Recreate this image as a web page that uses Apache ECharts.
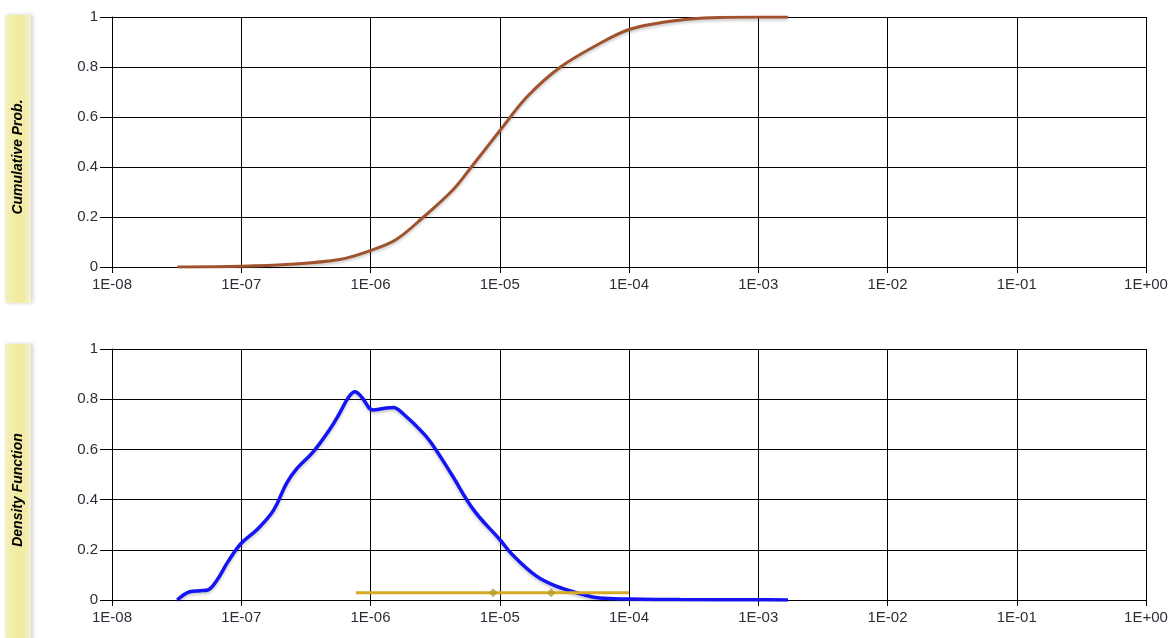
<!DOCTYPE html>
<html>
<head>
<meta charset="utf-8">
<script src="https://cdn.jsdelivr.net/npm/echarts@6/dist/echarts.min.js"></script>
<style>
  html, body { margin: 0; padding: 0; background: #fff; }
  #chart { width: 1175px; height: 638px; }
</style>
</head>
<body>
<div id="chart"></div>
<script>
// cumulative probability curve (x in real units, log axis)
var cdfX = [3.2e-8, 1e-7, 2.24e-7, 5.75e-7, 1e-6, 1.58e-6, 2.57e-6, 4.37e-6, 6.03e-6, 1e-5,
  1.62e-5, 2.95e-5, 5.75e-5, 1e-4, 1.9e-4, 3.0e-4, 5e-4, 1e-3, 1.7e-3]
var cdfY = [0, 0.003, 0.01, 0.03, 0.066, 0.11, 0.2, 0.31, 0.4, 0.545,
  0.68, 0.8, 0.89, 0.95, 0.98, 0.992, 0.998, 1, 1]

// density function curve
var pdfX = [3.2e-8, 4.0e-8, 4.8e-8, 5.5e-8, 6.5e-8, 7.9e-8, 1e-7, 1.32e-7, 1.78e-7, 2.24e-7,
  2.7e-7, 3.6e-7, 4.8e-7, 5.75e-7, 6.8e-7, 7.6e-7, 8.5e-7, 1.05e-6, 1.26e-6, 1.5e-6,
  1.78e-6, 2.57e-6, 3.1e-6, 4.2e-6, 6.3e-6, 1e-5, 1.26e-5, 1.9e-5, 2.7e-5, 4.2e-5,
  5.9e-5, 1e-4, 2.5e-4, 1e-3, 1.7e-3]
var pdfY = [0, 0.033, 0.037, 0.04, 0.08, 0.153, 0.226, 0.28, 0.358, 0.465,
  0.524, 0.59, 0.677, 0.743, 0.81, 0.83, 0.81, 0.757, 0.763, 0.767,
  0.743, 0.664, 0.61, 0.504, 0.358, 0.241, 0.179, 0.097, 0.056, 0.025,
  0.008, 0.004, 0.0015, 0.001, 0]

// yellow range bar with two markers
var rangeX = [7.7e-7, 1e-4]
var rangeY = [0.029, 0.029]
var markX = [8.9e-6, 2.5e-5]
var markY = [0.029, 0.029]

var xLabels = ['1E-08', '1E-07', '1E-06', '1E-05', '1E-04', '1E-03', '1E-02', '1E-01', '1E+00']

function zip (xs, ys) {
  return xs.map(function (x, i) { return [x, ys[i]] })
}

function xAxisCfg (idx) {
  return {
    type: 'log',
    logBase: 10,
    gridIndex: idx,
    min: 1e-8,
    max: 1,
    splitNumber: 8,
    axisLine: { lineStyle: { color: '#000', width: 1 } },
    axisTick: { show: true, length: 6, lineStyle: { color: '#000' } },
    minorTick: { show: false },
    splitLine: { show: true, lineStyle: { color: '#000', width: 1 } },
    axisLabel: {
      color: '#2e2e38',
      fontFamily: 'Liberation Sans',
      fontSize: 15,
      margin: 10,
      formatter: function (v) {
        var e = Math.round(Math.log10(v))
        return xLabels[e + 8]
      }
    }
  }
}

function yAxisCfg (idx) {
  return {
    type: 'value',
    gridIndex: idx,
    min: 0,
    max: 1,
    interval: 0.2,
    axisLine: { show: true, lineStyle: { color: '#000', width: 1 } },
    axisTick: { show: true, length: 12, lineStyle: { color: '#000' } },
    splitLine: { show: true, lineStyle: { color: '#000', width: 1 } },
    axisLabel: {
      color: '#2e2e38',
      fontFamily: 'Liberation Sans',
      fontSize: 15,
      margin: 14
    }
  }
}

function labelBox (y, h, text, cy) {
  return [{
    type: 'rect',
    shape: { x: 5, y: y, width: 26, height: h },
    style: {
      fill: new echarts.graphic.LinearGradient(0, 0, 1, 0, [
        { offset: 0, color: '#f5f0c0' },
        { offset: 0.5, color: '#f1ea9e' },
        { offset: 0.85, color: '#f3edb2' },
        { offset: 1, color: '#f5f3dc' }
      ]),
      shadowColor: 'rgba(0,0,0,0.18)',
      shadowBlur: 4,
      shadowOffsetX: 2
    }
  }, {
    type: 'text',
    x: 18,
    y: cy,
    rotation: Math.PI / 2,
    style: {
      text: text,
      font: 'italic bold 14px "Liberation Sans"',
      fill: '#000',
      align: 'center',
      verticalAlign: 'middle'
    }
  }]
}

var chart = echarts.init(document.getElementById('chart'))

var lineShadow = {
  shadowColor: 'rgba(0,0,0,0.22)',
  shadowBlur: 3,
  shadowOffsetY: 2
}

var option = {
  backgroundColor: '#fff',
  animation: false,
  grid: [
    { left: 112, right: 29, top: 17, height: 250 },
    { left: 112, right: 29, top: 349, height: 251 }
  ],
  xAxis: [xAxisCfg(0), xAxisCfg(1)],
  yAxis: [yAxisCfg(0), yAxisCfg(1)],
  graphic: labelBox(15, 288, 'Cumulative Prob.', 157).concat(labelBox(344, 300, 'Density Function', 490)),
  series: [
    {
      name: 'cdf',
      type: 'line',
      xAxisIndex: 0,
      yAxisIndex: 0,
      data: zip(cdfX, cdfY),
      smooth: 0.35,
      showSymbol: false,
      lineStyle: Object.assign({ color: '#a0522d', width: 3 }, lineShadow)
    },
    {
      name: 'pdf',
      type: 'line',
      xAxisIndex: 1,
      yAxisIndex: 1,
      data: zip(pdfX, pdfY),
      smooth: 0.4,
      showSymbol: false,
      lineStyle: Object.assign({ color: '#1414f5', width: 3.5 }, lineShadow)
    },
    {
      name: 'range',
      type: 'line',
      xAxisIndex: 1,
      yAxisIndex: 1,
      data: zip(rangeX, rangeY),
      showSymbol: false,
      lineStyle: { color: '#d6aa22', width: 3 },
      z: 3
    },
    {
      name: 'marks',
      type: 'scatter',
      xAxisIndex: 1,
      yAxisIndex: 1,
      data: zip(markX, markY),
      symbol: 'diamond',
      symbolSize: 9,
      itemStyle: { color: '#b29e2c' },
      z: 4
    }
  ]
}

chart.setOption(option)
</script>
</body>
</html>
